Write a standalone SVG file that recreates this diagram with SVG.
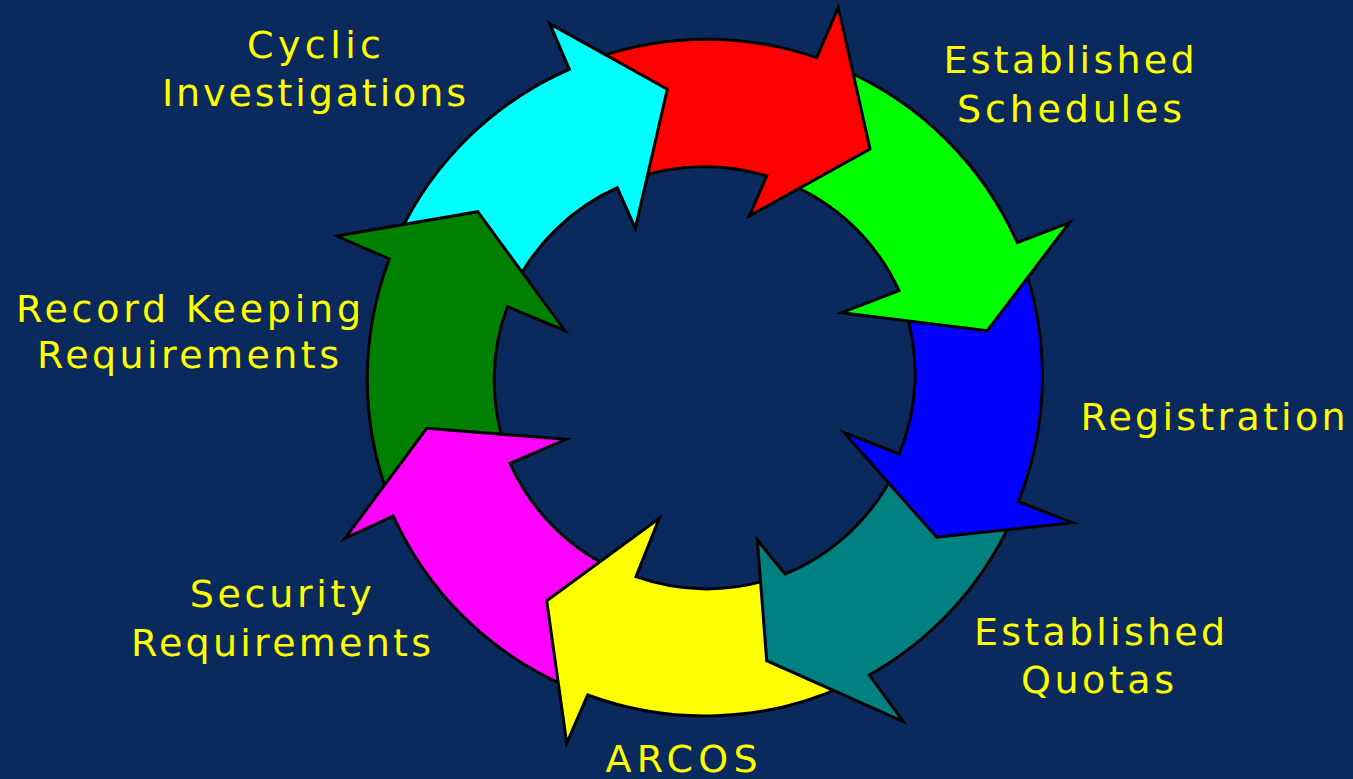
<svg xmlns="http://www.w3.org/2000/svg" xmlns:xlink="http://www.w3.org/1999/xlink" width="1353" height="779" viewBox="0 0 1353 779">
<style>
.arrow{stroke:#000;stroke-width:3;stroke-linejoin:miter;stroke-miterlimit:10}
.label{font-family:"DejaVu Sans","Liberation Sans",Arial,sans-serif;font-size:38px;fill:#FFFF00}
</style>
<defs>
<clipPath id="cyanHeadClip"><rect x="540" y="0" width="170" height="245"/></clipPath>
</defs>
<rect width="1353" height="779" fill="#0A2A5E"/>

<g id="cyclic-investigations">
<path id="cyanShape" class="arrow" fill="#00FFFF" d="M398.7,235.2 A338,338 0 0 1 569.3,69.3 L550,24 L667.3,89.3 L635.3,228.3 L617.3,187.7 A211.5,211.5 0 0 0 513.1,289.2 Z"/>
<text class="label" x="247" y="57.7" textLength="134" lengthAdjust="spacing">Cyclic</text>
<text class="label" x="162" y="105.7" textLength="304" lengthAdjust="spacing">Investigations</text>
</g>

<g id="record-keeping">
<path class="arrow" fill="#008000" d="M386.4,490.8 A338,338 0 0 1 389.3,259 L336.7,236 L477.7,211.7 L565,330.7 L507.3,306.7 A211.5,211.5 0 0 0 505,446.9 Z"/>
<text class="label" x="16" y="321.7" textLength="345" lengthAdjust="spacing">Record Keeping</text>
<text class="label" x="37" y="368.3" textLength="302" lengthAdjust="spacing">Requirements</text>
</g>

<g id="security-requirements">
<path class="arrow" fill="#FF00FF" d="M565.9,686.1 A338,338 0 0 1 393.3,516 L345,538.3 L426.7,428.3 L566,439.3 L510,463.3 A211.5,211.5 0 0 0 620.7,572 Z"/>
<text class="label" x="189.7" y="607.3" textLength="182" lengthAdjust="spacing">Security</text>
<text class="label" x="131" y="656" textLength="300" lengthAdjust="spacing">Requirements</text>
</g>

<g id="arcos">
<path class="arrow" fill="#FFFF00" d="M842.5,686.8 A338,338 0 0 1 587.7,695 L566.7,743.3 L546.7,600.7 L659.3,518.3 L636,576.7 A211.5,211.5 0 0 0 767.5,580 Z"/>
<text class="label" x="605.5" y="772" textLength="152" lengthAdjust="spacing">ARCOS</text>
</g>

<g id="established-quotas">
<path class="arrow" fill="#008080" d="M1010.1,523.5 A338,338 0 0 1 869.3,675 L903.3,721.7 L766.7,660.7 L757.3,540 L785,574 A211.5,211.5 0 0 0 895.9,469.1 Z"/>
<text class="label" x="974" y="645" textLength="251" lengthAdjust="spacing">Established</text>
<text class="label" x="1021" y="693.3" textLength="153" lengthAdjust="spacing">Quotas</text>
</g>

<g id="registration">
<path class="arrow" fill="#0000FF" d="M1025.7,271.3 A338,338 0 0 1 1018.3,501.7 L1072.7,522.7 L936.7,537.3 L844,432.7 L899.3,454 A211.5,211.5 0 0 0 904.7,308.4 Z"/>
<text class="label" x="1080.5" y="430" textLength="265" lengthAdjust="spacing">Registration</text>
</g>

<g id="established-schedules">
<path class="arrow" fill="#00FF00" d="M843.5,69.7 A338,338 0 0 1 1017.3,242.7 L1069.3,222.7 L987.3,330.7 L841.7,312.7 L899,290.7 A211.5,211.5 0 0 0 784.2,181.9 Z"/>
<text class="label" x="943.5" y="73.3" textLength="251" lengthAdjust="spacing">Established</text>
<text class="label" x="957" y="121.7" textLength="225" lengthAdjust="spacing">Schedules</text>
</g>

<g id="cycle-start">
<path class="arrow" fill="#FF0000" d="M596.6,57.8 A338,338 0 0 1 816.7,57.7 L838.3,7.3 L870,149 L749.3,216 L766.7,176 A211.5,211.5 0 0 0 633.7,178.9 Z"/>
</g>

<g id="cyclic-investigations-head">
<use xlink:href="#cyanShape" href="#cyanShape" clip-path="url(#cyanHeadClip)"/>
</g>
</svg>
